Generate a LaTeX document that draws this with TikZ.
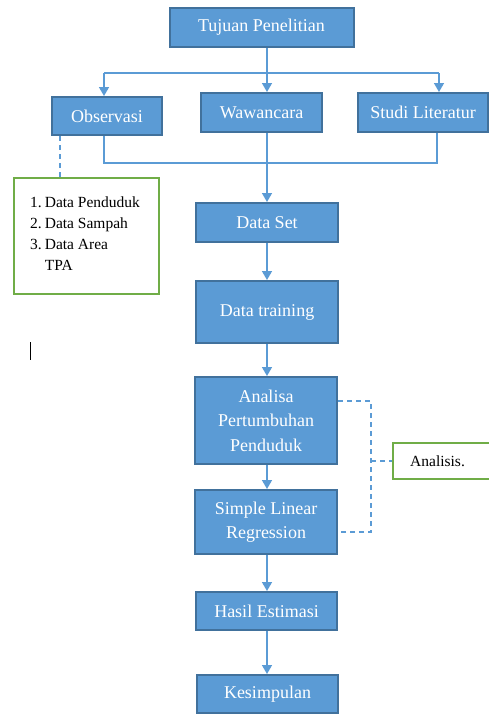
\documentclass[tikz,border=0pt]{standalone}
\usepackage{fontspec}
\setmainfont{Liberation Serif}
\usetikzlibrary{arrows.meta}
\definecolor{boxfill}{HTML}{5B9BD5}
\definecolor{boxedge}{HTML}{41719C}
\definecolor{linec}{HTML}{5B9BD5}
\definecolor{greenc}{HTML}{70AD47}
\begin{document}
\begin{tikzpicture}[x=1pt,y=-1pt,
  bluebox/.style={draw=boxedge, line width=2pt, fill=boxfill, text=white, align=center,
     inner sep=0pt, font=\fontsize{18}{24.5}\selectfont},
  greenbox/.style={draw=greenc, line width=2pt, fill=white, inner sep=0pt},
  conn/.style={draw=linec, line width=1.5pt},
  arr/.style={conn, -{Triangle[width=10pt,length=9pt]}},
  dashconn/.style={draw=linec, line width=1.2pt, dash pattern=on 5pt off 4pt}]
\useasboundingbox (0,0) rectangle (489,715);
% main boxes
\node[bluebox, minimum width=184pt, minimum height=39pt] (tuj) at (261.5,27.5) {Tujuan Penelitian};
\node[bluebox, minimum width=110pt, minimum height=38pt] (obs) at (107,116) {Observasi};
\node[bluebox, minimum width=121pt, minimum height=39pt] (waw) at (261.5,112.5) {Wawancara};
\node[bluebox, minimum width=130pt, minimum height=39pt] (lit) at (423,112.5) {Studi Literatur};
\node[bluebox, minimum width=142pt, minimum height=39pt] (dset) at (267,222.5) {Data Set};
\node[bluebox, minimum width=142pt, minimum height=62pt] (dtr) at (267,312) {Data training};
\node[bluebox, minimum width=142pt, minimum height=87pt] (ana) at (266,420.5) {Analisa\\Pertumbuhan\\Penduduk};
\node[bluebox, minimum width=142pt, minimum height=64pt] (slr) at (266,522) {Simple Linear\\Regression};
\node[bluebox, minimum width=141pt, minimum height=38pt] (has) at (266.5,611) {Hasil Estimasi};
\node[bluebox, minimum width=141pt, minimum height=38pt] (kes) at (267.5,694) {Kesimpulan};
% green boxes
\node[greenbox, minimum width=145pt, minimum height=116pt] (gdat) at (86.5,236) {};
\node[anchor=north west, inner sep=0pt, font=\fontsize{15.5}{21}\selectfont] (glist) at (30,193)
  {\begin{tabular}{@{}r@{\hspace{3pt}}l@{}}1.&Data Penduduk\\2.&Data Sampah\\3.&Data Area\\&TPA\end{tabular}};
\node[greenbox, minimum width=110pt, minimum height=36pt] (anl) at (448,461) {};
\node[anchor=west, inner sep=0pt, font=\fontsize{15.5}{18}\selectfont] (anltxt) at (410,461) {Analisis.};
% coordinates
\coordinate (cx) at (267,0);
\coordinate (bL) at (104,73);
\coordinate (bR) at (439,73);
\coordinate (kL) at (104,163);
\coordinate (kR) at (437,163);
\coordinate (dx) at (60,0);
\coordinate (rA) at (371,401);
\coordinate (rB) at (371,532);
% connectors top
\draw[arr] (tuj.south -| cx) -- (waw.north -| cx);
\draw[conn] (bL) -- (bR);
\draw[arr] (bL) -- (bL |- obs.north);
\draw[arr] (bR) -- (bR |- lit.north);
\draw[conn] (kL |- obs.south) -- (kL) -- (kR) -- (kR |- lit.south);
\draw[arr] (waw.south -| cx) -- (dset.north -| cx);
% chain
\draw[arr] (dset.south -| cx) -- (dtr.north -| cx);
\draw[arr] (dtr.south -| cx) -- (ana.north -| cx);
\draw[arr] (ana.south -| cx) -- (slr.north -| cx);
\draw[arr] (slr.south -| cx) -- (has.north -| cx);
\draw[arr] (has.south -| cx) -- (kes.north -| cx);
% dashed
\draw[dashconn] (obs.south -| dx) -- (gdat.north -| dx);
\draw[dashconn] (ana.east |- rA) -- (rA) -- (rB) -- (slr.east |- rB);
\draw[dashconn] (rA |- anl.west) -- (anl.west);
% text cursor
\draw[black, line width=1pt] (30,342) -- (30,360);
\end{tikzpicture}
\end{document}
